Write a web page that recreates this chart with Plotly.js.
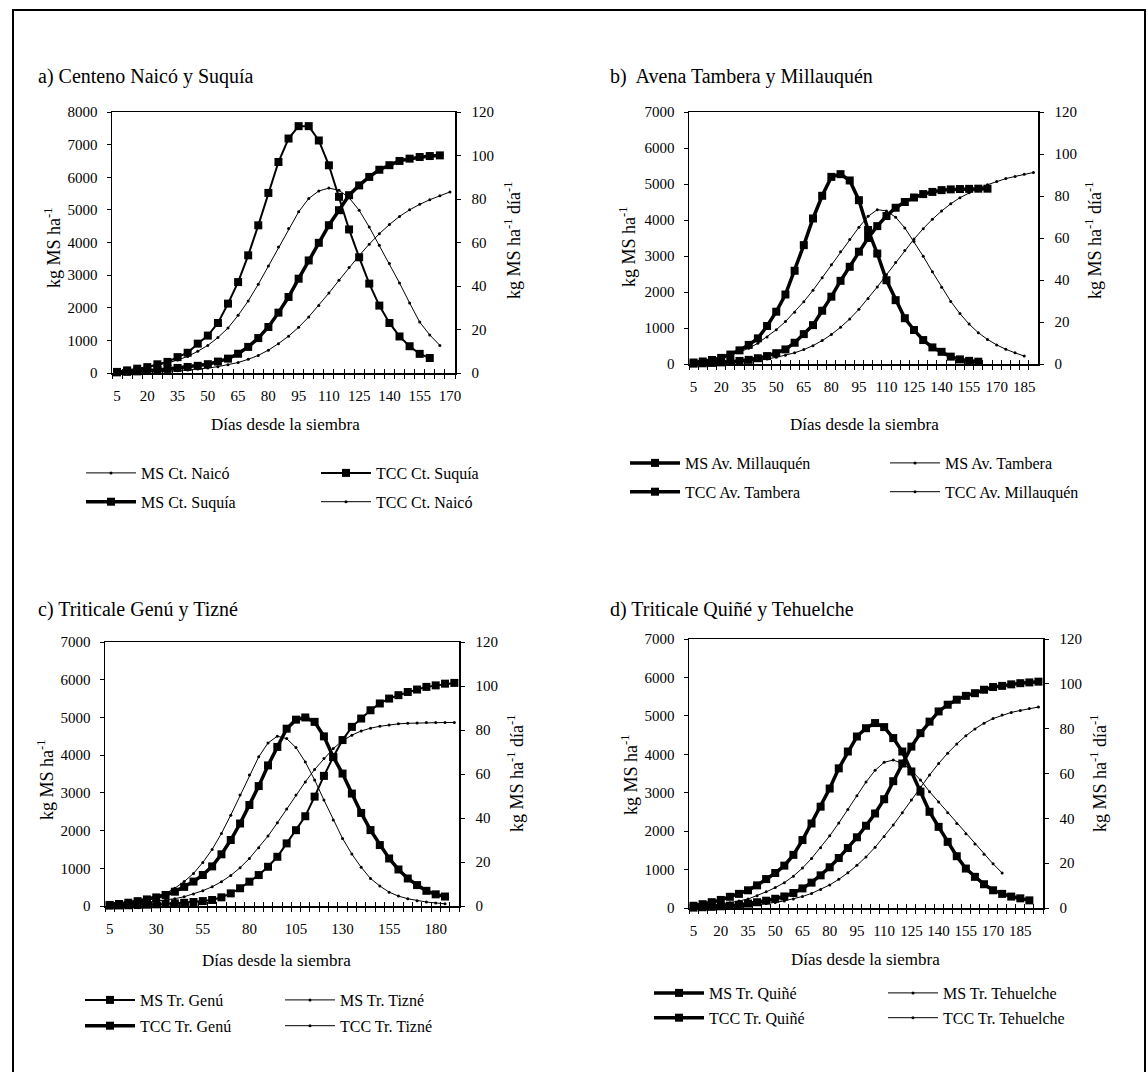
<!DOCTYPE html>
<html><head><meta charset="utf-8">
<script src="https://cdn.plot.ly/plotly-3.0.1.min.js"></script>
<style>html,body{margin:0;padding:0;background:#fff}#chart{width:1147px;height:1084px}</style>
</head><body><div id="chart"></div>
<script>
// ---------- categories (días desde la siembra) ----------
const daysA = [5,10,15,20,25,30,35,40,45,50,55,60,65,70,75,80,85,90,95,100,105,110,115,120,125,130,135,140,145,150,155,160,165,170];
const daysB = [5,10,15,20,25,30,35,40,45,50,55,60,65,70,75,80,85,90,95,100,105,110,115,120,125,130,135,140,145,150,155,160,165,170,175,180,185,190];
const daysC = [5,10,15,20,25,30,35,40,45,50,55,60,65,70,75,80,85,90,95,100,105,110,115,120,125,130,135,140,145,150,155,160,165,170,175,180,185,190];
const daysD = [5,10,15,20,25,30,35,40,45,50,55,60,65,70,75,80,85,90,95,100,105,110,115,120,125,130,135,140,145,150,155,160,165,170,175,180,185,190,195];

// ---------- a) Centeno ----------  MS: kg MS ha-1 (left) ; TCC: kg MS ha-1 dia-1 (right)
const msNaico   = [10,15,20,30,40,55,70,90,120,150,195,250,320,420,540,700,900,1130,1400,1720,2070,2450,2840,3230,3600,3950,4270,4550,4800,5000,5170,5310,5430,5550];
const msSuquia  = [20,35,50,70,95,125,155,185,220,270,350,440,590,800,1070,1410,1850,2330,2890,3450,3990,4530,4990,5450,5750,6010,6230,6370,6500,6570,6620,6650,6670];
const tccSuquia = [0.5,1.2,2.0,2.7,4.0,5.1,7.3,9.3,13.5,17.2,23.0,31.9,41.8,54.1,67.9,82.8,97.0,107.8,113.5,113.5,106.9,95.5,81.0,66.0,53.2,41.1,31.0,23.0,16.8,12.3,8.8,6.9];
const tccNaico  = [0.8,1.2,1.8,2.6,3.5,4.6,6.0,7.6,10.0,12.7,16.3,20.7,26.5,33.1,40.8,49.2,57.9,66.4,74.1,80.2,83.7,85.0,84.0,80.6,74.8,67.1,58.7,50.3,41.4,32.2,23.4,17.5,12.7];

// ---------- b) Avena ----------
const msMillauquen  = [10,20,30,45,60,85,115,160,220,300,405,590,830,1080,1480,1870,2310,2700,3120,3500,3830,4110,4340,4500,4625,4720,4780,4830,4850,4860,4865,4870,4870];
const msTambera     = [10,15,20,30,45,60,80,105,140,185,240,310,400,510,650,820,1020,1250,1520,1820,2140,2480,2820,3150,3470,3760,4020,4250,4450,4620,4760,4880,4980,5070,5150,5210,5270,5320];
const tccTambera    = [0.7,1.2,1.9,2.9,4.5,6.5,9.1,12.2,18.1,24.9,33.1,44.4,56.6,69.3,80.1,89.1,90.4,87.4,78.0,63.8,52.6,39.9,30.4,21.8,16.2,11.4,7.9,5.8,3.5,2.2,1.5,1.1];
const tccMillauquen = [0.9,1.4,2.1,2.9,4.1,5.7,7.5,9.9,12.9,16.3,20.2,24.7,29.7,35.1,41.1,47.3,53.5,59.3,65.1,70.3,73.5,72.9,69.9,64.8,58.3,51.3,43.9,36.5,29.8,24.0,19.0,14.9,11.7,9.1,7.0,5.3,3.8];

// ---------- c) Triticale Genú y Tizné ----------
const msGenu   = [10,15,20,25,35,45,55,70,85,105,130,160,230,335,470,645,820,1040,1305,1660,2010,2380,2900,3450,3950,4400,4750,4970,5190,5370,5500,5590,5675,5740,5810,5850,5895,5915];
const msTizne  = [25,40,60,80,105,130,160,195,245,320,405,510,645,810,1015,1260,1545,1855,2205,2570,2940,3290,3620,3910,4175,4380,4530,4640,4715,4765,4800,4830,4845,4855,4865,4865,4865,4865];
const tccGenu  = [0.5,0.9,1.5,2.2,3.0,3.9,5.0,6.5,8.7,11.1,14.1,18.0,23.5,30.0,37.5,45.9,54.5,63.9,72.3,80.6,84.7,85.7,83.7,77.1,67.7,60.2,51.1,42.3,34.5,27.7,21.6,16.6,12.5,9.5,6.9,5.3,4.3];
const tccTizne = [0.8,1.2,1.7,2.2,3.0,4.2,5.7,8.1,11.1,14.8,19.8,25.7,33.0,41.3,50.4,59.5,67.8,74.1,77.2,76.1,72.0,65.5,57.3,48.2,39.1,30.7,23.6,17.6,12.5,9.1,6.3,4.5,3.3,2.4,1.8,1.4,1.0];

// ---------- d) Triticale Quiñé y Tehuelche ----------
const msQuine      = [10,20,30,45,60,85,115,150,190,240,300,390,510,660,850,1060,1300,1560,1840,2140,2460,2830,3300,3760,4200,4550,4850,5115,5290,5420,5520,5590,5680,5750,5780,5820,5850,5870,5890];
const msTehuelche  = [10,15,20,30,40,55,70,90,115,145,185,235,300,380,480,600,745,915,1110,1330,1580,1860,2160,2480,2810,3140,3460,3760,4030,4270,4480,4660,4810,4930,5020,5090,5140,5190,5230];
const tccQuine     = [1.0,1.7,2.6,3.6,5.0,6.3,7.9,10.1,12.9,15.6,18.9,23.7,30.3,37.7,45.2,53.3,62.3,69.8,76.5,80.2,82.5,80.7,75.8,69.8,60.9,51.9,42.9,36.2,29.5,23.1,17.6,13.9,10.6,7.9,6.3,5.1,4.3,3.4];
const tccTehuelche = [0.7,0.9,1.3,1.7,2.3,3.1,4.0,5.5,7.2,9.1,11.3,14.2,17.8,22.1,26.9,32.2,37.9,43.9,50.1,56.2,61.4,65.0,66.0,64.5,61.4,57.1,51.9,47.3,42.5,37.7,33.1,28.5,24.0,19.7,15.6];

// ---------- texts ----------
const panelTitles = ['a) Centeno Naicó y Suquía', 'b)  Avena Tambera y Millauquén', 'c) Triticale Genú y Tizné', 'd) Triticale Quiñé y Tehuelche'];
const xTitle = 'Días desde la siembra';
const yTitleLeft = 'kg MS ha<sup>-1</sup>';
const yTitleRight = 'kg MS ha<sup>-1</sup> día<sup>-1</sup>';

// ---------- layout ----------
const FONT = '"Liberation Serif", "Times New Roman", serif';
const W = 1147, H = 1084;
const px = v => v / W, py = v => 1 - v / H;

const STYLES = {
  thickSq: {line:{color:'#000', width:3.5}, marker:{symbol:'square', size:8, color:'#000'}},
  thinSq:  {line:{color:'#000', width:2}, marker:{symbol:'square', size:8, color:'#000'}},
  thinDot: {line:{color:'#000', width:1}, marker:{symbol:'circle', size:3, color:'#000'}}
};

const panels = [
  { days: daysA, yMax: 8000, step: 3, box: [112,455,112,373], title: panelTitles[0], titlePos: [36,77],
    xT: [285,425], yL: [52,248], yR: [512,240], legX: [141,376], legY: 473, gap: 5,
    series: [
      {name:'MS Ct. Naicó',   y: msNaico,   side:'L', style:'thinDot', col:0, row:0},
      {name:'TCC Ct. Suquía', y: tccSuquia, side:'R', style:'thinSq',  col:1, row:0},
      {name:'MS Ct. Suquía',  y: msSuquia,  side:'L', style:'thickSq', col:0, row:1},
      {name:'TCC Ct. Naicó',  y: tccNaico,  side:'R', style:'thinDot', col:1, row:1}
    ]},
  { days: daysB, yMax: 7000, step: 3, box: [689,1038,112,364], title: panelTitles[1], titlePos: [608,77],
    xT: [864,424], yL: [628,247], yR: [1093,240], legX: [685,945], legY: 463, gap: 5,
    series: [
      {name:'MS Av. Millauquén',  y: msMillauquen,  side:'L', style:'thickSq', col:0, row:0},
      {name:'MS Av. Tambera',     y: msTambera,     side:'L', style:'thinDot', col:1, row:0},
      {name:'TCC Av. Tambera',    y: tccTambera,    side:'R', style:'thickSq', col:0, row:1},
      {name:'TCC Av. Millauquén', y: tccMillauquen, side:'R', style:'thinDot', col:1, row:1}
    ]},
  { days: daysC, yMax: 7000, step: 5, box: [105,459,642,906], title: panelTitles[2], titlePos: [36,609],
    xT: [276,960], yL: [45,780], yR: [516,773], legX: [140,340], legY: 1000, gap: 2,
    series: [
      {name:'MS Tr. Genú',   y: msGenu,   side:'L', style:'thinSq',  col:0, row:0},
      {name:'MS Tr. Tizné',  y: msTizne,  side:'L', style:'thinDot', col:1, row:0},
      {name:'TCC Tr. Genú',  y: tccGenu,  side:'R', style:'thickSq', col:0, row:1},
      {name:'TCC Tr. Tizné', y: tccTizne, side:'R', style:'thinDot', col:1, row:1}
    ]},
  { days: daysD, yMax: 7000, step: 3, box: [689,1043,639,908], title: panelTitles[3], titlePos: [608,609],
    xT: [865,959], yL: [629,775], yR: [1099,773], legX: [709,943], legY: 993, gap: 1,
    series: [
      {name:'MS Tr. Quiñé',      y: msQuine,      side:'L', style:'thickSq', col:0, row:0},
      {name:'MS Tr. Tehuelche',  y: msTehuelche,  side:'L', style:'thinDot', col:1, row:0},
      {name:'TCC Tr. Quiñé',     y: tccQuine,     side:'R', style:'thickSq', col:0, row:1},
      {name:'TCC Tr. Tehuelche', y: tccTehuelche, side:'R', style:'thinDot', col:1, row:1}
    ]}
];

const layout = {
  width: W, height: H, margin: {l:0, r:0, t:0, b:0},
  paper_bgcolor: '#fff', plot_bgcolor: 'rgba(0,0,0,0)',
  font: {family: FONT, color: '#000', size: 15},
  showlegend: true, annotations: [], shapes: []
};
const data = [];
const key = (l, n) => l + 'axis' + (n === 1 ? '' : n);
const ref = (l, n) => l + (n === 1 ? '' : n);
const tickFont = {family: FONT, size: 15, color: '#000'};
const LEG_ITEM_W = 50;

panels.forEach((p, i) => {
  const xa = 2*i+1, xb = 2*i+2, ya = 4*i+1, yb = 4*i+2, yc = 4*i+3, yd = 4*i+4;
  const [x0, x1, yT, yB] = p.box;
  const n = p.days.length;
  const catBase = {type:'category', categoryorder:'array', categoryarray:p.days, range:[-0.5, n-0.5],
    tickmode:'linear', tick0:0, dtick:1, tickson:'boundaries', showgrid:false, zeroline:false,
    fixedrange:true, tickcolor:'#000', tickwidth:1, ticklen:4, tickangle:0};
  layout[key('x', xa)] = Object.assign({}, catBase, {domain:[px(x0), px(x1)], anchor:ref('y', ya),
    ticks:'outside', ticklabelstep:p.step, showline:true, linecolor:'#000', linewidth:1.5, mirror:true,
    tickfont:tickFont, ticklabelstandoff:8});
  layout[key('x', xb)] = Object.assign({}, catBase, {overlaying:ref('x', xa), anchor:ref('y', yb),
    ticks:'inside', showticklabels:false, showline:false});
  const yBase = {showgrid:false, zeroline:false, fixedrange:true, tickcolor:'#000', tickwidth:1, ticklen:4, tickmode:'linear', tick0:0};
  layout[key('y', ya)] = Object.assign({}, yBase, {domain:[py(yB), py(yT)], anchor:ref('x', xa), range:[0, p.yMax], dtick:1000,
    ticks:'outside', showline:true, linecolor:'#000', linewidth:1.5, tickfont:tickFont, ticklabelstandoff:6});
  layout[key('y', yb)] = Object.assign({}, yBase, {overlaying:ref('y', ya), side:'right', anchor:ref('x', xb), range:[0, 120], dtick:20,
    ticks:'outside', showline:true, linecolor:'#000', linewidth:1.5, tickfont:tickFont, ticklabelstandoff:8});
  layout[key('y', yc)] = Object.assign({}, yBase, {overlaying:ref('y', ya), side:'left', anchor:ref('x', xa), range:[0, p.yMax], dtick:1000,
    ticks:'inside', showticklabels:false, showline:false});
  layout[key('y', yd)] = Object.assign({}, yBase, {overlaying:ref('y', ya), side:'right', anchor:ref('x', xb), range:[0, 120], dtick:20,
    ticks:'inside', showticklabels:false, showline:false});

  // legends: one per column
  [0, 1].forEach(c => {
    const li = 2*i + c + 1;
    layout[li === 1 ? 'legend' : 'legend' + li] = {
      x: px(p.legX[c] - LEG_ITEM_W - 10), y: py(p.legY - 17), xanchor:'left', yanchor:'top', orientation:'v',
      bgcolor:'rgba(0,0,0,0)', borderwidth:0, font:{family:FONT, size:16, color:'#000'},
      itemwidth: LEG_ITEM_W,
      traceorder:'grouped', tracegroupgap:p.gap, itemclick:false, itemdoubleclick:false
    };
  });

  p.series.forEach((s, k) => {
    const st = STYLES[s.style];
    const li = 2*i + s.col + 1;
    data.push({
      type:'scatter', mode:'lines+markers', name:s.name,
      x: p.days.slice(0, s.y.length), y: s.y,
      xaxis: s.side === 'L' ? ref('x', xa) : ref('x', xb),
      yaxis: s.side === 'L' ? ref('y', ya) : ref('y', yb),
      line: st.line, marker: st.marker, cliponaxis:false,
      legend: li === 1 ? 'legend' : 'legend' + li,
      legendgroup: 'g' + i + '_' + k, legendrank: s.row + 1,
      hoverinfo:'skip'
    });
  });

  // titles
  layout.annotations.push({text:p.title, xref:'paper', yref:'paper', x:px(p.titlePos[0]), y:py(p.titlePos[1]),
    xanchor:'left', yanchor:'middle', showarrow:false, font:{family:FONT, size:20, color:'#000'}});
  layout.annotations.push({text:xTitle, xref:'paper', yref:'paper', x:px(p.xT[0]), y:py(p.xT[1]),
    xanchor:'center', yanchor:'middle', showarrow:false, font:{family:FONT, size:17, color:'#000'}});
  layout.annotations.push({text:yTitleLeft, xref:'paper', yref:'paper', x:px(p.yL[0]), y:py(p.yL[1]),
    xanchor:'center', yanchor:'middle', textangle:-90, showarrow:false, font:{family:FONT, size:18, color:'#000'}});
  layout.annotations.push({text:yTitleRight, xref:'paper', yref:'paper', x:px(p.yR[0]), y:py(p.yR[1]),
    xanchor:'center', yanchor:'middle', textangle:-90, showarrow:false, font:{family:FONT, size:18, color:'#000'}});
});

// outer frame of the figure
layout.shapes.push({type:'path', xref:'paper', yref:'paper',
  path:'M ' + px(13) + ' ' + py(1072) + ' L ' + px(13) + ' ' + py(10) + ' L ' + px(1145) + ' ' + py(10) + ' L ' + px(1145) + ' ' + py(1072),
  line:{color:'#000', width:2}});

Plotly.newPlot('chart', data, layout, {staticPlot:true, displayModeBar:false});
</script></body></html>
